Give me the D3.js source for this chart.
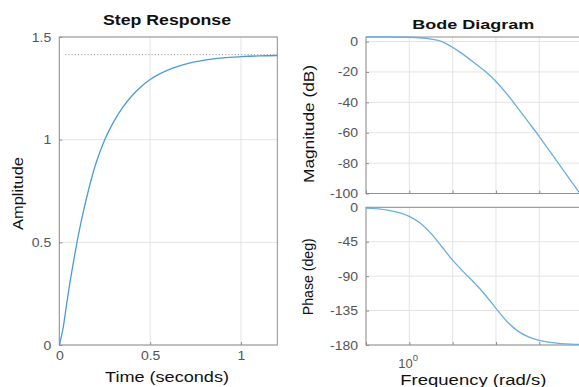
<!DOCTYPE html>
<html><head><meta charset="utf-8">
<script src="https://cdn.jsdelivr.net/npm/d3@7"></script>
<style>
body{margin:0;background:#fff}
svg{display:block}
text{font-family:"Liberation Sans",Arial,Helvetica,sans-serif}
</style>
</head><body>
<svg id="c" width="579" height="387"></svg>
<script>
// ---- Data ----
const stepTime = [0,0.02,0.04,0.06,0.08,0.1,0.125,0.15,0.2,0.25,0.3,0.35,0.4,0.45,0.5,0.6,0.7,0.8,0.9,1.0,1.1,1.2];
const stepAmplitude = [0,0.077,0.197,0.312,0.416,0.512,0.620,0.716,0.880,1.000,1.088,1.158,1.214,1.258,1.293,1.340,1.369,1.387,1.398,1.404,1.408,1.410];
const steadyState = 1.414;
const stepXTicks = [0,0.5,1];
const stepYTicks = [0,0.5,1,1.5];

const bodeFreq = [0.1,0.316,1,1.778,3.162,5.623,10,17.78,31.62,56.23,100,177.8,316.2,562.3,1000,1778,3162,5623,10000];
const bodeMagDb = [3.0,3.0,2.85,2.5,1.6,0.0,-3.8,-8.6,-14.0,-19.6,-26.3,-34.4,-43.6,-53.0,-62.5,-72.5,-82.5,-92.5,-102.5];
const bodePhaseDeg = [-1.2,-3.8,-11.9,-20.6,-34.1,-51.6,-69.1,-84.4,-98.6,-114.3,-132.1,-149.0,-161.5,-169.4,-174.0,-176.6,-178.1,-178.9,-179.4];
const magTicks = [0,-20,-40,-60,-80,-100];
const phaseTicks = [0,-45,-90,-135,-180];
const freqGrid = [0.1,1,10,100,1000];
const freqLabelTicks = [1];

// ---- Drawing ----
const svg = d3.select('#c');
const gridCol = '#e4e4e4', boxCol = '#8f8f8f', tickTxt = '#555555';
const stepCol = '#4a9bd8', bodeCol = '#6aaee0';
const fmt = d => String(d);

function stretch(sel, f){
  sel.each(function(){
    const L = this.getComputedTextLength();
    d3.select(this).attr('textLength', L*f).attr('lengthAdjust','spacingAndGlyphs');
  });
}

function makeClip(id, x0, y0, x1, y1){
  svg.append('clipPath').attr('id', id).append('rect')
    .attr('x', x0).attr('y', y0-1).attr('width', x1-x0).attr('height', y1-y0+2);
}

// Step response panel
const sx = d3.scaleLinear([0,1.2],[59.3,277.3]);
const sy = d3.scaleLinear([0,1.5],[345,37]);
const gS = svg.append('g');
gS.append('g').selectAll('line').data(stepXTicks).join('line')
  .attr('x1', d=>sx(d)).attr('x2', d=>sx(d)).attr('y1', sy(0)).attr('y2', sy(1.5))
  .attr('stroke', gridCol).attr('stroke-width',1);
gS.append('g').selectAll('line').data(stepYTicks).join('line')
  .attr('y1', d=>sy(d)).attr('y2', d=>sy(d)).attr('x1', sx(0)).attr('x2', sx(1.2))
  .attr('stroke', gridCol).attr('stroke-width',1);
gS.append('rect').attr('x', sx(0)).attr('y', sy(1.5)).attr('width', sx(1.2)-sx(0)).attr('height', sy(0)-sy(1.5))
  .attr('fill','none').attr('stroke', boxCol).attr('stroke-width',1);

const axSL = gS.append('g').attr('transform',`translate(${sx(0)},0)`)
  .call(d3.axisLeft(sy).tickValues(stepYTicks).tickSize(-3).tickPadding(8).tickFormat(fmt));
const axSB = gS.append('g').attr('transform',`translate(0,${sy(0)})`)
  .call(d3.axisBottom(sx).tickValues(stepXTicks).tickSize(-3).tickPadding(8).tickFormat(fmt));
[axSL, axSB].forEach(a=>{
  a.select('.domain').remove();
  a.selectAll('line').attr('stroke', boxCol);
  a.selectAll('text').attr('fill', tickTxt).style('font-size','12.5px');
});
axSB.selectAll('text').attr('dy','0.55em');

const sClipId='clipStep';
makeClip(sClipId, sx(0), sy(1.5), sx(1.2), sy(0));
gS.append('line').attr('x1', sx(0)+6).attr('x2', sx(1.2)).attr('y1', sy(steadyState)).attr('y2', sy(steadyState))
  .attr('stroke','#8a8a8a').attr('stroke-width',1).attr('stroke-dasharray','1,2.2');
gS.append('path').datum(stepTime.map((t,i)=>[t, stepAmplitude[i]]))
  .attr('clip-path',`url(#${sClipId})`)
  .attr('d', d3.line().x(d=>sx(d[0])).y(d=>sy(d[1])).curve(d3.curveMonotoneX))
  .attr('fill','none').attr('stroke', stepCol).attr('stroke-width',1.3);

// Bode panels
const fx = d3.scaleLog([0.1,10000],[366,582.6]);
const my = d3.scaleLinear([-100,3],[193.5,37]);
const py = d3.scaleLinear([-180,0],[345,207.3]);

function bodePanel(yScale, ticks, dom, vals, clipId){
  const g = svg.append('g');
  const [y0,y1] = [yScale(dom[1]), yScale(dom[0])];
  g.append('g').selectAll('line').data(freqGrid).join('line')
    .attr('x1', d=>fx(d)).attr('x2', d=>fx(d)).attr('y1', y0).attr('y2', y1)
    .attr('stroke', gridCol).attr('stroke-width',1);
  g.append('g').selectAll('line').data(ticks).join('line')
    .attr('y1', d=>yScale(d)).attr('y2', d=>yScale(d)).attr('x1', fx(0.1)).attr('x2', 579)
    .attr('stroke', gridCol).attr('stroke-width',1);
  g.append('rect').attr('x', fx(0.1)).attr('y', y0).attr('width', fx(10000)-fx(0.1)).attr('height', y1-y0)
    .attr('fill','none').attr('stroke', boxCol).attr('stroke-width',1);
  const ax = g.append('g').attr('transform',`translate(${fx(0.1)},0)`)
    .call(d3.axisLeft(yScale).tickValues(ticks).tickSize(-3).tickPadding(8).tickFormat(fmt));
  ax.select('.domain').remove();
  ax.selectAll('line').attr('stroke', boxCol);
  ax.selectAll('text').attr('fill', tickTxt).style('font-size','12.5px');
  const axb = g.append('g').attr('transform',`translate(0,${y1})`)
    .call(d3.axisBottom(fx).tickValues(freqGrid).tickSize(-3).tickFormat(''));
  axb.select('.domain').remove();
  axb.selectAll('line').attr('stroke', boxCol);
  makeClip(clipId, fx(0.1), y0, 579, y1);
  g.append('path').datum(bodeFreq.map((f,i)=>[f, vals[i]]))
    .attr('clip-path',`url(#${clipId})`)
    .attr('d', d3.line().x(d=>fx(d[0])).y(d=>yScale(d[1])).curve(d3.curveMonotoneX))
    .attr('fill','none').attr('stroke', bodeCol).attr('stroke-width',1.3);
  return ax;
}
const axM = bodePanel(my, magTicks, [-100,3], bodeMagDb, 'clipMag');
const axP = bodePanel(py, phaseTicks, [-180,0], bodePhaseDeg, 'clipPh');

stretch(svg.selectAll('.tick text'), 1.12);

// frequency tick label 10^0
freqLabelTicks.forEach(f=>{
  const t = svg.append('text').attr('x', fx(f)-11).attr('y', 368).attr('fill', tickTxt).style('font-size','13px');
  t.append('tspan').text('10');
  t.append('tspan').attr('dy', -7).style('font-size','9.5px').text(Math.round(Math.log10(f)));
});

// Titles and axis labels
function label(txt, x, y, size, len, opts={}){
  const t = svg.append('text').attr('x', x).attr('y', y).attr('text-anchor','middle')
    .style('font-size', size+'px').attr('fill', '#111')
    .attr('textLength', len).attr('lengthAdjust','spacingAndGlyphs').text(txt);
  if(opts.bold) t.style('font-weight','bold');
  if(opts.rot) t.attr('transform', `rotate(-90,${x},${y})`);
  return t;
}
label('Step Response', 167, 25, 15, 128, {bold:true});
label('Bode Diagram', 473.3, 29, 13.5, 122, {bold:true});
label('Time (seconds)', 167, 381.7, 14.5, 124);
label('Frequency  (rad/s)', 473.3, 385, 14, 146);
label('Amplitude', 22.7, 193.5, 15, 73, {rot:true});
label('Magnitude (dB)', 314, 124, 14, 118, {rot:true});
label('Phase (deg)', 313.5, 276.7, 14, 77, {rot:true});
</script>
</body></html>
